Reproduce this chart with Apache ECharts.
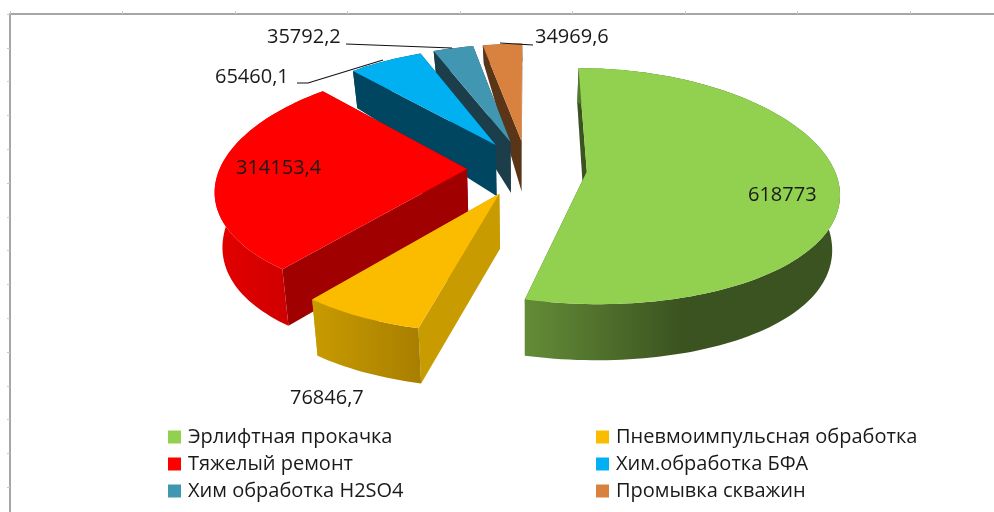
<!DOCTYPE html>
<html style="height: 100%">
<head>
    <meta charset="utf-8">
    <title>Pie</title>
    <script src="https://cdn.jsdelivr.net/npm/echarts@6/dist/echarts.min.js"></script>
</head>
<body style="height: 100%; margin: 0; background: #fff">
<div id="main" style="width: 994px; height: 512px"></div>

<script type="text/javascript">
    var categories = ['Эрлифтная прокачка', 'Пневмоимпульсная обработка', 'Тяжелый ремонт',
        'Хим.обработка БФА', 'Хим обработка H2SO4', 'Промывка скважин'];
    var values = [618773, 76846.7, 314153.4, 65460.1, 35792.2, 34969.6];

    var topColors = ['#92d050', '#fbbc00', '#ff0000', '#00b0f0', '#4197b2', '#d98240'];
    var cutColors = ['#3b5320', '#c89b00', '#a00000', '#004660', '#1c3d4a', '#5a3517'];
    var wallStops = [
        [[0, '#638c37'], [0.5, '#3b5320'], [1, '#3b5320']],
        [[0, '#c89b00'], [1, '#a87e00']],
        [[0, '#e40000'], [1, '#c40000']],
        [[0, '#004660'], [1, '#004660']],
        [[0, '#1c3d4a'], [1, '#1c3d4a']],
        [[0, '#5a3517'], [1, '#5a3517']]
    ];
    // order slices are painted in, far ones first
    var paintOrder = [5, 4, 3, 2, 1, 0];

    // layout of the tilted pie
    var CX = 527, CY = 168, RADIUS = 247, EXPLODE = 60, TILT = 0.467;
    var PERSP_X = 1550, PERSP_Y = 2000;
    var START_DEG = 0, BOTTOM_SCALE = 0.975;

    var total = values.reduce(function (a, b) { return a + b; }, 0);

    function sliceAngles(idx) {
        var before = 0;
        for (var i = 0; i < idx; i++) before += values[i];
        var a0 = START_DEG + before / total * 360;
        return [a0, a0 + values[idx] / total * 360];
    }

    function wallDepth(yn) {
        var d = 52 - 12 * yn - 6 * yn * yn;
        if (yn > 0.9) d -= (yn - 0.9) * 40;
        return d;
    }

    // world point on the disc -> screen, bottom=true gives the lower face
    function project(wx, wy, bottom) {
        var x = wx * PERSP_X / (PERSP_X + wy);
        var y = -wy * TILT * PERSP_Y / (PERSP_Y + wy);
        if (bottom) {
            x *= BOTTOM_SCALE;
            y = y * BOTTOM_SCALE + wallDepth(wy / RADIUS) * (1 - BOTTOM_SCALE) + wallDepth(wy / RADIUS);
        }
        return [CX + x, CY + y];
    }

    function renderSlice(idx) {
        return function (params, api) {
            var ang = sliceAngles(idx);
            var mid = (ang[0] + ang[1]) / 2 * Math.PI / 180;
            var ox = EXPLODE * Math.sin(mid), oy = EXPLODE * Math.cos(mid);
            var steps = Math.ceil((ang[1] - ang[0]) / 1.5);
            var rim = [], rimLow = [];
            for (var i = 0; i <= steps; i++) {
                var t = (ang[0] + (ang[1] - ang[0]) * i / steps) * Math.PI / 180;
                var wx = ox + RADIUS * Math.sin(t), wy = oy + RADIUS * Math.cos(t);
                rim.push(project(wx, wy, false));
                rimLow.push(project(wx, wy, true));
            }
            var apex = project(ox, oy, false), apexLow = project(ox, oy, true);
            var last = rim.length - 1;
            var gradient = new echarts.graphic.LinearGradient(0, 0, 1, 0, wallStops[idx].map(function (s) {
                return {offset: s[0], color: s[1]};
            }));
            return {
                type: 'group',
                children: [
                    {type: 'polygon', shape: {points: [apex, rim[0], rimLow[0], apexLow]}, style: {fill: cutColors[idx]}},
                    {type: 'polygon', shape: {points: [apex, rim[last], rimLow[last], apexLow]}, style: {fill: cutColors[idx]}},
                    {type: 'polygon', shape: {points: rim.concat(rimLow.slice().reverse())}, style: {fill: gradient}},
                    {type: 'polygon', shape: {points: [apex].concat(rim)}, style: {fill: topColors[idx]}}
                ]
            };
        };
    }

    // where the value labels sit, and their leader lines
    var labelSpots = [[748, 195], [290, 398], [236, 168], [215, 77], [267, 37], [535, 37]];
    var leaderLines = [
        null, null, null,
        [[297, 83], [308, 83], [383, 60]],
        [[346, 44], [452, 48]],
        [[500, 43], [533, 45]]
    ];
    var LABEL_FONT = '20px "Open Sans"';

    function renderLabels(params, api) {
        var kids = [];
        values.forEach(function (v, i) {
            kids.push({
                type: 'text',
                style: {
                    text: String(v).replace('.', ','),
                    x: labelSpots[i][0], y: labelSpots[i][1],
                    fill: '#1a1a1a', font: LABEL_FONT, textVerticalAlign: 'middle'
                }
            });
            if (leaderLines[i]) {
                kids.push({
                    type: 'polyline',
                    shape: {points: leaderLines[i]},
                    style: {stroke: '#111', lineWidth: 1.2, fill: 'none'}
                });
            }
        });
        return {type: 'group', children: kids};
    }

    var series = paintOrder.map(function (idx) {
        return {
            type: 'custom',
            name: categories[idx],
            coordinateSystem: 'none',
            silent: true,
            itemStyle: {color: topColors[idx]},
            data: [values[idx]],
            renderItem: renderSlice(idx)
        };
    });
    series.push({
        type: 'custom',
        name: 'labels',
        coordinateSystem: 'none',
        silent: true,
        data: [0],
        renderItem: renderLabels
    });

    var legendText = {fontFamily: 'Open Sans', fontSize: 20, color: '#1a1a1a', padding: [0, 0, 0, 2]};

    var myChart = echarts.init(document.getElementById('main'), null, {renderer: 'canvas'});
    var option = {
        animation: false,
        backgroundColor: '#fff',
        // sheet rulers along the top and left edge
        grid: {left: 10, top: 14, right: 0, bottom: 0},
        xAxis: {
            type: 'value', position: 'top', min: 0, max: 984, interval: 112.5,
            axisLine: {lineStyle: {color: '#a6a6a6', width: 2}},
            axisTick: {show: true, length: 3, lineStyle: {color: '#c8c8c8'}},
            axisLabel: {show: false}, splitLine: {show: false}
        },
        yAxis: {
            type: 'value', inverse: true, min: 0, max: 498, interval: 33.8,
            axisLine: {show: true, lineStyle: {color: '#a6a6a6', width: 2}},
            axisTick: {show: true, length: 3, lineStyle: {color: '#c8c8c8'}},
            axisLabel: {show: false}, splitLine: {show: false}
        },
        legend: [
            {
                left: 168, top: 427, orient: 'vertical', icon: 'rect', itemWidth: 13, itemHeight: 13,
                itemGap: 7, padding: 0, textStyle: legendText,
                selectedMode: false,
                data: [categories[0], categories[2], categories[4]]
            },
            {
                left: 596, top: 427, orient: 'vertical', icon: 'rect', itemWidth: 13, itemHeight: 13,
                itemGap: 7, padding: 0, textStyle: legendText,
                selectedMode: false,
                data: [categories[1], categories[3], categories[5]]
            }
        ],
        series: series
    };
    myChart.setOption(option);
</script>
</body>
</html>
